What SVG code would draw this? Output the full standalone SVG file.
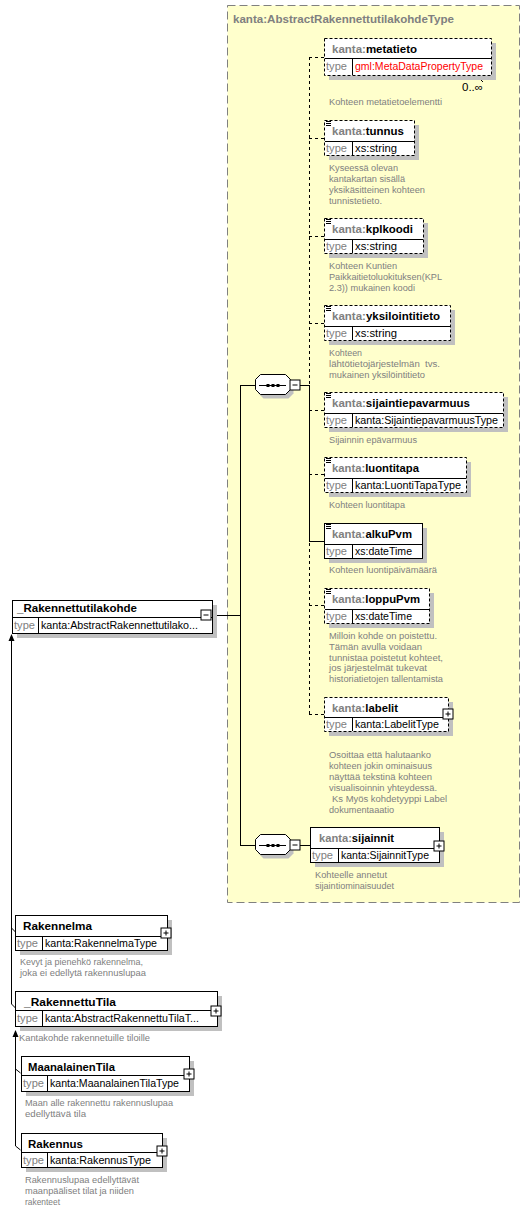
<svg xmlns="http://www.w3.org/2000/svg" xmlns:xlink="http://www.w3.org/1999/xlink" width="531" height="1212" viewBox="0 0 531 1212">
<style>
.sh{fill:#c0c0c0;stroke:none}
.bx{fill:#fff;stroke:#000;stroke-width:1}
.bd{fill:#fff;stroke:#000;stroke-width:1;stroke-dasharray:3,2}
.ln{stroke:#000;stroke-width:1;fill:none}
.dl{stroke:#000;stroke-width:1;fill:none;stroke-dasharray:3,3}
.nm{font-family:"Liberation Sans",Arial,sans-serif;font-size:11.5px;font-weight:bold;fill:#000}
.px{fill:#808080}
.tl{font-family:"Liberation Sans",Arial,sans-serif;font-size:11px;fill:#808080}
.tv{font-family:"Liberation Sans",Arial,sans-serif;font-size:11px;fill:#000}
.red{fill:#ff0000}
.ds{font-family:"Liberation Sans",Arial,sans-serif;font-size:9.6px;fill:#808080}
.ttl{font-family:"Liberation Sans",Arial,sans-serif;font-size:11.5px;font-weight:bold;fill:#808080}
</style>
<defs>
<g id="plus"><rect x="0.5" y="0.5" width="10" height="10" fill="#fff" stroke="#000"/><path d="M3 5.5h5M5.5 3v5" stroke="#000"/></g>
<g id="minus"><rect x="0.5" y="0.5" width="10" height="10" fill="#fff" stroke="#000"/><path d="M3 5.5h5" stroke="#000"/></g>
<g id="doc"><path d="M0 0.5h5M0 2.5h5M0 4.5h5" stroke="#000"/></g>
<g id="seq">
<path d="M263.5 3.5h25l5 5v10l-5 5h-25l-5-5v-10z" fill="#c0c0c0" stroke="none"/>
<path d="M260.5 -0.5h25l5 5v10l-5 5h-25l-5-5v-10z" fill="#fff" stroke="#000"/>
<path d="M259 10.5h27" stroke="#000"/>
<rect x="266.5" y="9" width="3" height="3" fill="#000"/>
<rect x="271.5" y="9" width="3" height="3" fill="#000"/>
<rect x="276.5" y="9" width="3" height="3" fill="#000"/>
</g>
</defs>

<g id="complexType">
<rect x="227.5" y="5.5" width="292" height="897" fill="#ffffcc" stroke="#808080" stroke-dasharray="8,4"/>
<text class="ttl" x="233" y="23" textLength="221" lengthAdjust="spacingAndGlyphs">kanta:AbstractRakennettutilakohdeType</text>
</g>

<g id="connectors">
<path class="dl" d="M309.5 57v657"/>
<path class="ln" d="M309.5 385v156"/>
<path class="dl" d="M309 57.5h15M309 138.5h15M309 236.5h15M309 323.5h15M309 410.5h15M309 474.5h15M309 605.5h15M309 714.5h15"/>
<path class="ln" d="M309 541.5h15"/>
<path class="ln" d="M240.5 385v460M212 615.5h29M240 385.5h15M300 385.5h9M240 845.5h15M300 845.5h10"/>
<path d="M478 77l5 5" class="ln"/>
<path class="ln" d="M11.5 640v364M11.5 1004l4 4M11.5 928l4 4"/>
<path d="M11.5 634l-3 7h6z" fill="#000"/>
<path class="ln" d="M15.5 1036v110M15.5 1146l5 4M15.5 1069l5 4"/>
<path d="M15.5 1030l-3 7h6z" fill="#000"/>
</g>

<g id="seq1"><use xlink:href="#seq" transform="translate(0,375)"/><use xlink:href="#minus" transform="translate(289.5,379.5)"/></g>
<g id="seq2"><use xlink:href="#seq" transform="translate(0,835)"/><use xlink:href="#minus" transform="translate(289.5,839.5)"/></g>

<g id="metatieto">
<rect class="sh" x="329" y="43" width="167" height="37"/>
<rect class="bd" x="324.5" y="38.5" width="167" height="37"/>
<path class="ln" d="M325 58.5h166M352.5 59v16"/>
<text class="nm" x="332" y="53" textLength="85" lengthAdjust="spacingAndGlyphs"><tspan class="px">kanta:</tspan>metatieto</text>
<text class="tl" x="326" y="70" textLength="21" lengthAdjust="spacingAndGlyphs">type</text>
<text class="tv red" x="355" y="70" textLength="128" lengthAdjust="spacingAndGlyphs">gml:MetaDataPropertyType</text>
<text class="tv" x="462" y="91" textLength="21" lengthAdjust="spacingAndGlyphs">0..∞</text>
<text class="ds" x="329" y="105" textLength="113" lengthAdjust="spacingAndGlyphs">Kohteen metatietoelementti</text>
</g>

<g id="tunnus">
<rect class="sh" x="329" y="125" width="90" height="35"/>
<rect class="bd" x="324.5" y="120.5" width="90" height="35"/>
<path class="ln" d="M325 141.5h89M352.5 142v13"/>
<use xlink:href="#doc" transform="translate(326,121)"/>
<text class="nm" x="332" y="135" textLength="72" lengthAdjust="spacingAndGlyphs"><tspan class="px">kanta:</tspan>tunnus</text>
<text class="tl" x="326" y="152" textLength="21" lengthAdjust="spacingAndGlyphs">type</text>
<text class="tv" x="355" y="152" textLength="42" lengthAdjust="spacingAndGlyphs">xs:string</text>
<text class="ds" x="329" y="171" textLength="69" lengthAdjust="spacingAndGlyphs">Kyseessä olevan</text>
<text class="ds" x="329" y="182" textLength="76" lengthAdjust="spacingAndGlyphs">kantakartan sisällä</text>
<text class="ds" x="329" y="193" textLength="96" lengthAdjust="spacingAndGlyphs">yksikäsitteinen kohteen</text>
<text class="ds" x="329" y="204" textLength="53" lengthAdjust="spacingAndGlyphs">tunnistetieto.</text>
</g>

<g id="kplkoodi">
<rect class="sh" x="329" y="223" width="99" height="35"/>
<rect class="bd" x="324.5" y="218.5" width="99" height="35"/>
<path class="ln" d="M325 239.5h98M352.5 240v13"/>
<use xlink:href="#doc" transform="translate(326,219)"/>
<text class="nm" x="332" y="233" textLength="81" lengthAdjust="spacingAndGlyphs"><tspan class="px">kanta:</tspan>kplkoodi</text>
<text class="tl" x="326" y="250" textLength="21" lengthAdjust="spacingAndGlyphs">type</text>
<text class="tv" x="355" y="250" textLength="42" lengthAdjust="spacingAndGlyphs">xs:string</text>
<text class="ds" x="329" y="269" textLength="68" lengthAdjust="spacingAndGlyphs">Kohteen Kuntien</text>
<text class="ds" x="329" y="280" textLength="113" lengthAdjust="spacingAndGlyphs">Paikkaitietoluokituksen(KPL</text>
<text class="ds" x="329" y="291" textLength="86" lengthAdjust="spacingAndGlyphs">2.3)) mukainen koodi</text>
</g>

<g id="yksilointitieto">
<rect class="sh" x="329" y="310" width="126" height="35"/>
<rect class="bd" x="324.5" y="305.5" width="126" height="35"/>
<path class="ln" d="M325 326.5h125M352.5 327v13"/>
<use xlink:href="#doc" transform="translate(326,306)"/>
<text class="nm" x="332" y="320" textLength="108" lengthAdjust="spacingAndGlyphs"><tspan class="px">kanta:</tspan>yksilointitieto</text>
<text class="tl" x="326" y="337" textLength="21" lengthAdjust="spacingAndGlyphs">type</text>
<text class="tv" x="355" y="337" textLength="42" lengthAdjust="spacingAndGlyphs">xs:string</text>
<text class="ds" x="329" y="356" textLength="33" lengthAdjust="spacingAndGlyphs">Kohteen</text>
<text class="ds" x="329" y="367" textLength="111" lengthAdjust="spacingAndGlyphs" xml:space="preserve">lähtötietojärjestelmän  tvs.</text>
<text class="ds" x="329" y="378" textLength="96" lengthAdjust="spacingAndGlyphs">mukainen yksilöintitieto</text>
</g>

<g id="sijaintiepavarmuus">
<rect class="sh" x="329" y="397" width="179" height="35"/>
<rect class="bd" x="324.5" y="392.5" width="179" height="35"/>
<path class="ln" d="M325 413.5h178M352.5 414v13"/>
<use xlink:href="#doc" transform="translate(326,393)"/>
<text class="nm" x="332" y="407" textLength="138" lengthAdjust="spacingAndGlyphs"><tspan class="px">kanta:</tspan>sijaintiepavarmuus</text>
<text class="tl" x="326" y="424" textLength="21" lengthAdjust="spacingAndGlyphs">type</text>
<text class="tv" x="355" y="424" textLength="143" lengthAdjust="spacingAndGlyphs">kanta:SijaintiepavarmuusType</text>
<text class="ds" x="329" y="443" textLength="88" lengthAdjust="spacingAndGlyphs">Sijainnin epävarmuus</text>
</g>

<g id="luontitapa">
<rect class="sh" x="329" y="462" width="142" height="35"/>
<rect class="bd" x="324.5" y="457.5" width="142" height="35"/>
<path class="ln" d="M325 478.5h141M352.5 479v13"/>
<use xlink:href="#doc" transform="translate(326,458)"/>
<text class="nm" x="332" y="472" textLength="87" lengthAdjust="spacingAndGlyphs"><tspan class="px">kanta:</tspan>luontitapa</text>
<text class="tl" x="326" y="489" textLength="21" lengthAdjust="spacingAndGlyphs">type</text>
<text class="tv" x="355" y="489" textLength="106" lengthAdjust="spacingAndGlyphs">kanta:LuontiTapaType</text>
<text class="ds" x="329" y="508" textLength="76" lengthAdjust="spacingAndGlyphs">Kohteen luontitapa</text>
</g>

<g id="alkuPvm">
<rect class="sh" x="329" y="528" width="98" height="35"/>
<rect class="bx" x="324.5" y="523.5" width="98" height="35"/>
<path class="ln" d="M325 544.5h97M352.5 545v13"/>
<use xlink:href="#doc" transform="translate(326,524)"/>
<text class="nm" x="332" y="538" textLength="80" lengthAdjust="spacingAndGlyphs"><tspan class="px">kanta:</tspan>alkuPvm</text>
<text class="tl" x="326" y="555" textLength="21" lengthAdjust="spacingAndGlyphs">type</text>
<text class="tv" x="355" y="555" textLength="57" lengthAdjust="spacingAndGlyphs">xs:dateTime</text>
<text class="ds" x="329" y="573" textLength="108" lengthAdjust="spacingAndGlyphs">Kohteen luontipäivämäärä</text>
</g>

<g id="loppuPvm">
<rect class="sh" x="329" y="593" width="105" height="35"/>
<rect class="bd" x="324.5" y="588.5" width="105" height="35"/>
<path class="ln" d="M325 609.5h104M352.5 610v13"/>
<use xlink:href="#doc" transform="translate(326,589)"/>
<text class="nm" x="332" y="603" textLength="88" lengthAdjust="spacingAndGlyphs"><tspan class="px">kanta:</tspan>loppuPvm</text>
<text class="tl" x="326" y="620" textLength="21" lengthAdjust="spacingAndGlyphs">type</text>
<text class="tv" x="355" y="620" textLength="57" lengthAdjust="spacingAndGlyphs">xs:dateTime</text>
<text class="ds" x="329" y="639" textLength="108" lengthAdjust="spacingAndGlyphs">Milloin kohde on poistettu.</text>
<text class="ds" x="329" y="650" textLength="93" lengthAdjust="spacingAndGlyphs">Tämän avulla voidaan</text>
<text class="ds" x="329" y="661" textLength="114" lengthAdjust="spacingAndGlyphs">tunnistaa poistetut kohteet,</text>
<text class="ds" x="329" y="671" textLength="98" lengthAdjust="spacingAndGlyphs">jos järjestelmät tukevat</text>
<text class="ds" x="329" y="682" textLength="114" lengthAdjust="spacingAndGlyphs">historiatietojen tallentamista</text>
</g>

<g id="labelit">
<rect class="sh" x="329" y="702" width="124" height="34"/>
<rect class="bd" x="324.5" y="697.5" width="124" height="34"/>
<path class="ln" d="M325 717.5h123M352.5 718v13"/>
<use xlink:href="#plus" transform="translate(442.5,708.5)"/>
<text class="nm" x="332" y="712" textLength="66" lengthAdjust="spacingAndGlyphs"><tspan class="px">kanta:</tspan>labelit</text>
<text class="tl" x="326" y="728" textLength="21" lengthAdjust="spacingAndGlyphs">type</text>
<text class="tv" x="355" y="728" textLength="84" lengthAdjust="spacingAndGlyphs">kanta:LabelitType</text>
<text class="ds" x="329" y="758" textLength="102" lengthAdjust="spacingAndGlyphs">Osoittaa että halutaanko</text>
<text class="ds" x="329" y="769" textLength="103" lengthAdjust="spacingAndGlyphs">kohteen jokin ominaisuus</text>
<text class="ds" x="329" y="780" textLength="103" lengthAdjust="spacingAndGlyphs">näyttää tekstinä kohteen</text>
<text class="ds" x="329" y="791" textLength="108" lengthAdjust="spacingAndGlyphs">visualisoinnin yhteydessä.</text>
<text class="ds" x="332" y="802" textLength="115" lengthAdjust="spacingAndGlyphs">Ks Myös kohdetyyppi Label</text>
<text class="ds" x="329" y="813" textLength="65" lengthAdjust="spacingAndGlyphs">dokumentaaatio</text>
</g>

<g id="sijainnit">
<rect class="sh" x="315" y="832" width="129" height="35"/>
<rect class="bx" x="310.5" y="827.5" width="129" height="35"/>
<path class="ln" d="M311 848.5h128M338.5 849v13"/>
<use xlink:href="#plus" transform="translate(433.5,840.5)"/>
<text class="nm" x="319" y="842" textLength="75" lengthAdjust="spacingAndGlyphs"><tspan class="px">kanta:</tspan>sijainnit</text>
<text class="tl" x="312" y="859" textLength="21" lengthAdjust="spacingAndGlyphs">type</text>
<text class="tv" x="341" y="859" textLength="88" lengthAdjust="spacingAndGlyphs">kanta:SijainnitType</text>
<text class="ds" x="315" y="878" textLength="72" lengthAdjust="spacingAndGlyphs">Kohteelle annetut</text>
<text class="ds" x="315" y="889" textLength="79" lengthAdjust="spacingAndGlyphs">sijaintiominaisuudet</text>
</g>

<g id="Rakennettutilakohde">
<rect class="sh" x="17" y="605" width="200" height="33"/>
<rect class="bx" x="12.5" y="600.5" width="200" height="33"/>
<path class="ln" d="M13 617.5h199M38.5 618v15"/>
<use xlink:href="#minus" transform="translate(200.5,609.5)"/>
<text class="nm" x="17" y="612" textLength="120" lengthAdjust="spacingAndGlyphs">_Rakennettutilakohde</text>
<text class="tl" x="14" y="629" textLength="21" lengthAdjust="spacingAndGlyphs">type</text>
<text class="tv" x="41" y="629" textLength="157" lengthAdjust="spacingAndGlyphs">kanta:AbstractRakennettutilako...</text>
</g>

<g id="Rakennelma">
<rect class="sh" x="20" y="920" width="152" height="35"/>
<rect class="bx" x="15.5" y="915.5" width="152" height="35"/>
<path class="ln" d="M16 936.5h151M42.5 937v13"/>
<use xlink:href="#plus" transform="translate(160.5,927.5)"/>
<text class="nm" x="23" y="930" textLength="69" lengthAdjust="spacingAndGlyphs">Rakennelma</text>
<text class="tl" x="17" y="947" textLength="21" lengthAdjust="spacingAndGlyphs">type</text>
<text class="tv" x="45" y="947" textLength="112" lengthAdjust="spacingAndGlyphs">kanta:RakennelmaType</text>
<text class="ds" x="20" y="965" textLength="123" lengthAdjust="spacingAndGlyphs">Kevyt ja pienehkö rakennelma,</text>
<text class="ds" x="20" y="976" textLength="126" lengthAdjust="spacingAndGlyphs">joka ei edellytä rakennuslupaa</text>
</g>

<g id="RakennettuTila">
<rect class="sh" x="20" y="996" width="202" height="35"/>
<rect class="bx" x="15.5" y="991.5" width="202" height="35"/>
<path class="ln" d="M16 1010.5h201M42.5 1011v15"/>
<use xlink:href="#plus" transform="translate(210.5,1005.5)"/>
<text class="nm" x="24" y="1006" textLength="92" lengthAdjust="spacingAndGlyphs">_RakennettuTila</text>
<text class="tl" x="17" y="1022" textLength="21" lengthAdjust="spacingAndGlyphs">type</text>
<text class="tv" x="45" y="1022" textLength="154" lengthAdjust="spacingAndGlyphs">kanta:AbstractRakennettuTilaT...</text>
<text class="ds" x="19" y="1041" textLength="131" lengthAdjust="spacingAndGlyphs">Kantakohde rakennetuille tiloille</text>
</g>

<g id="MaanalainenTila">
<rect class="sh" x="26" y="1061" width="168" height="35"/>
<rect class="bx" x="21.5" y="1056.5" width="168" height="35"/>
<path class="ln" d="M22 1075.5h167M47.5 1076v15"/>
<use xlink:href="#plus" transform="translate(183.5,1068.5)"/>
<text class="nm" x="28" y="1071" textLength="87" lengthAdjust="spacingAndGlyphs">MaanalainenTila</text>
<text class="tl" x="23" y="1087" textLength="21" lengthAdjust="spacingAndGlyphs">type</text>
<text class="tv" x="50" y="1087" textLength="129" lengthAdjust="spacingAndGlyphs">kanta:MaanalainenTilaType</text>
<text class="ds" x="25" y="1106" textLength="148" lengthAdjust="spacingAndGlyphs">Maan alle rakennettu rakennuslupaa</text>
<text class="ds" x="25" y="1117" textLength="61" lengthAdjust="spacingAndGlyphs">edellyttävä tila</text>
</g>

<g id="Rakennus">
<rect class="sh" x="26" y="1138" width="141" height="34"/>
<rect class="bx" x="21.5" y="1133.5" width="141" height="34"/>
<path class="ln" d="M22 1152.5h140M47.5 1153v14"/>
<use xlink:href="#plus" transform="translate(156.5,1145.5)"/>
<text class="nm" x="28" y="1148" textLength="55" lengthAdjust="spacingAndGlyphs">Rakennus</text>
<text class="tl" x="23" y="1164" textLength="21" lengthAdjust="spacingAndGlyphs">type</text>
<text class="tv" x="50" y="1164" textLength="101" lengthAdjust="spacingAndGlyphs">kanta:RakennusType</text>
<text class="ds" x="25" y="1183" textLength="114" lengthAdjust="spacingAndGlyphs">Rakennuslupaa edellyttävät</text>
<text class="ds" x="25" y="1194" textLength="109" lengthAdjust="spacingAndGlyphs">maanpääliset tilat ja niiden</text>
<text class="ds" x="25" y="1205" textLength="35" lengthAdjust="spacingAndGlyphs">rakenteet</text>
</g>
</svg>
